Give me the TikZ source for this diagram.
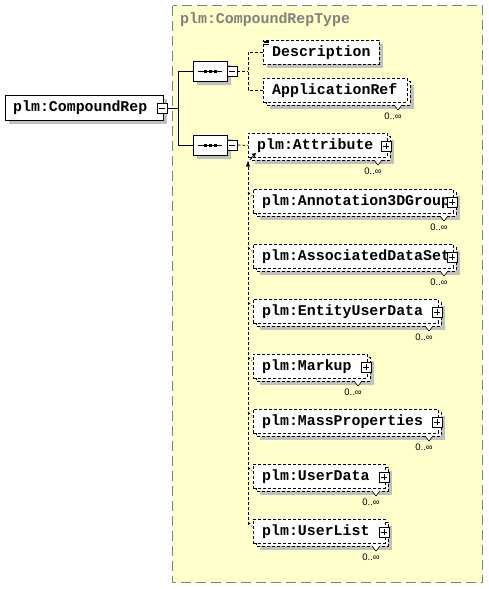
\documentclass[tikz,border=0pt]{standalone}
\usepackage{fontspec}
\setmonofont{Liberation Mono}
\newfontfamily\lsans{Liberation Sans}
\usetikzlibrary{shapes.misc}
\definecolor{bgyellow}{RGB}{255,255,204}
\definecolor{shgray}{RGB}{192,192,192}
\definecolor{bordgray}{RGB}{128,128,128}
\newcommand{\nm}[1]{{\fontsize{14.9}{16}\selectfont\ttfamily\bfseries #1}}
\tikzset{
  pmbox/.style={draw, fill=white, minimum size=10pt, inner sep=0pt, line width=0.6pt},
  elbox/.style={draw, fill=white, dash pattern=on 3pt off 2pt, minimum height=24pt, inner sep=0pt, line width=0.8pt},
  eldash/.style={draw, dash pattern=on 3pt off 2pt, line width=0.8pt},
  conn/.style={dash pattern=on 3pt off 2pt, line width=0.8pt},
  solidconn/.style={line width=0.8pt},
  seqshape/.style={chamfered rectangle, chamfered rectangle xsep=5pt, chamfered rectangle ysep=5pt, minimum width=34pt, minimum height=20pt, inner sep=0pt, line width=0.8pt},
  occlabel/.style={font=\lsans\fontsize{9.5}{10}\selectfont, inner sep=0pt}
}
\newcommand{\mlines}[1]{\draw[line width=0.6pt] ([xshift=-3pt]#1.center) -- ([xshift=3pt]#1.center);}
\newcommand{\plines}[1]{\mlines{#1}\draw[line width=0.6pt] ([yshift=-3pt]#1.center) -- ([yshift=3pt]#1.center);}
\newcommand{\singleel}[5]{%
  \fill[shgray] (#2+4,#3+4) rectangle (#2+#4+4,#3+28);
  \node[elbox, minimum width=#4pt, anchor=north west] (#1) at (#2,#3) {};
  \node[anchor=west, inner sep=0pt] at ([xshift=9pt]#1.west) {\nm{#5}};
}
\newcommand{\multiel}[5]{%
  \fill[shgray] (#2+7,#3+7) rectangle (#2+#4+7,#3+31);
  \draw[eldash, fill=white] (#2+3,#3+3) rectangle (#2+#4+3,#3+27);
  \node[elbox, minimum width=#4pt, anchor=north west] (#1) at (#2,#3) {};
  \node[anchor=west, inner sep=0pt] at ([xshift=9pt]#1.west) {\nm{#5}};
  \draw[line width=0.6pt, fill=white] (#2+#4-13,#3+27) -- (#2+#4-9,#3+32) -- (#2+#4-5,#3+27);
  \node[occlabel] at (#2+#4-14,#3+38.5) {0..∞};
}
\newcommand{\plusel}[4]{% name, x, y, w
  \node[pmbox] (#1p) at (#2+#4-1,#3+13) {};
  \plines{#1p}
  \draw[conn] (248,#3+3) -- (252,#3+7);
}
\newcommand{\seqicon}[1]{%
  \draw[line width=0.8pt] ([xshift=-12pt]#1.center) -- ([xshift=12pt]#1.center);
  \foreach \dx in {-5,0,5} {\fill ([shift={(\dx-1.5,-1.5)}]#1.center) rectangle ++(3,3);}
}
\begin{document}
\begin{tikzpicture}[x=1pt,y=-1pt]
\useasboundingbox (0,0) rectangle (488,589);
\fill[white] (0,0) rectangle (488,589);
% type box
\draw[bordgray, fill=bgyellow, dash pattern=on 10pt off 5pt, line width=1pt] (172.5,5.5) rectangle (482.5,582.5);
\node[anchor=west, text=bordgray, inner sep=0pt] (title) at (180,20) {\nm{plm:CompoundRepType}};

% main element
\fill[shgray] (9,99) rectangle (167,124);
\node[draw, fill=white, minimum width=158pt, minimum height=25pt, anchor=north west, inner sep=0pt, line width=0.8pt] (main) at (5,95) {};
\node[anchor=west, inner sep=0pt] at ([xshift=8pt]main.west) {\nm{plm:CompoundRep}};
\node[pmbox] (mainm) at (162,108) {};
\mlines{mainm}

% sequences
\node[seqshape, fill=shgray] at (214,75) {};
\node[seqshape, draw, fill=white] (seq1) at (210,71) {};
\seqicon{seq1}
\node[pmbox] (s1m) at (232,71) {};
\mlines{s1m}
\node[seqshape, fill=shgray] at (214,149) {};
\node[seqshape, draw, fill=white] (seq2) at (210,145) {};
\seqicon{seq2}
\node[pmbox] (s2m) at (232,145) {};
\mlines{s2m}

\coordinate (j1) at (178,108);
\draw[solidconn] (mainm.east) -- (j1);
\draw[solidconn] (seq1.west) -| (j1);
\draw[solidconn] (seq2.west) -| (j1);

% first sequence children
\singleel{desc}{263}{40}{116}{Description}
\draw[line width=0.6pt] (264,41) -- (268.5,41) (264,42.7) -- (268.5,42.7) (264,44.4) -- (268.5,44.4);
\multiel{appref}{263}{78}{144}{ApplicationRef}
\coordinate (j2) at (248,71);
\draw[conn] (s1m.east) -- (j2);
\draw[conn] (desc.west) -| (j2);
\draw[conn] (appref.west) -| (j2);

% second sequence children
\multiel{attr}{248}{133}{139}{plm:Attribute}
\node[pmbox] (attrp) at (386,146) {};
\plines{attrp}
\draw[conn] (s2m.east) -- (attr.west);

\coordinate (vtop) at (248,162);
\coordinate (vbot) at (248,527);
\draw[conn] (vtop) -- (vbot);
\fill (246,166.5) -- (248,161) -- (250,166.5) -- cycle;
\draw[line width=0.8pt] ([shift={(2,2)}]attr.south west) -- ([shift={(6,-3)}]attr.south west);
\fill ([shift={(8,-5)}]attr.south west) -- ([shift={(3.5,-3.8)}]attr.south west) -- ([shift={(6.8,-0.6)}]attr.south west) -- cycle;

\multiel{annot}{253}{189}{200}{plm:Annotation3DGroup}
\plusel{annot}{253}{189}{200}
\multiel{assoc}{253}{244}{200}{plm:AssociatedDataSet}
\plusel{assoc}{253}{244}{200}
\multiel{eud}{253}{299}{185}{plm:EntityUserData}
\plusel{eud}{253}{299}{185}
\multiel{markup}{253}{354}{114}{plm:Markup}
\plusel{markup}{253}{354}{114}
\multiel{mass}{253}{409}{185}{plm:MassProperties}
\plusel{mass}{253}{409}{185}
\multiel{udata}{253}{464}{132}{plm:UserData}
\plusel{udata}{253}{464}{132}
\multiel{ulist}{253}{519}{132}{plm:UserList}
\plusel{ulist}{253}{519}{132}
\end{tikzpicture}
\end{document}
